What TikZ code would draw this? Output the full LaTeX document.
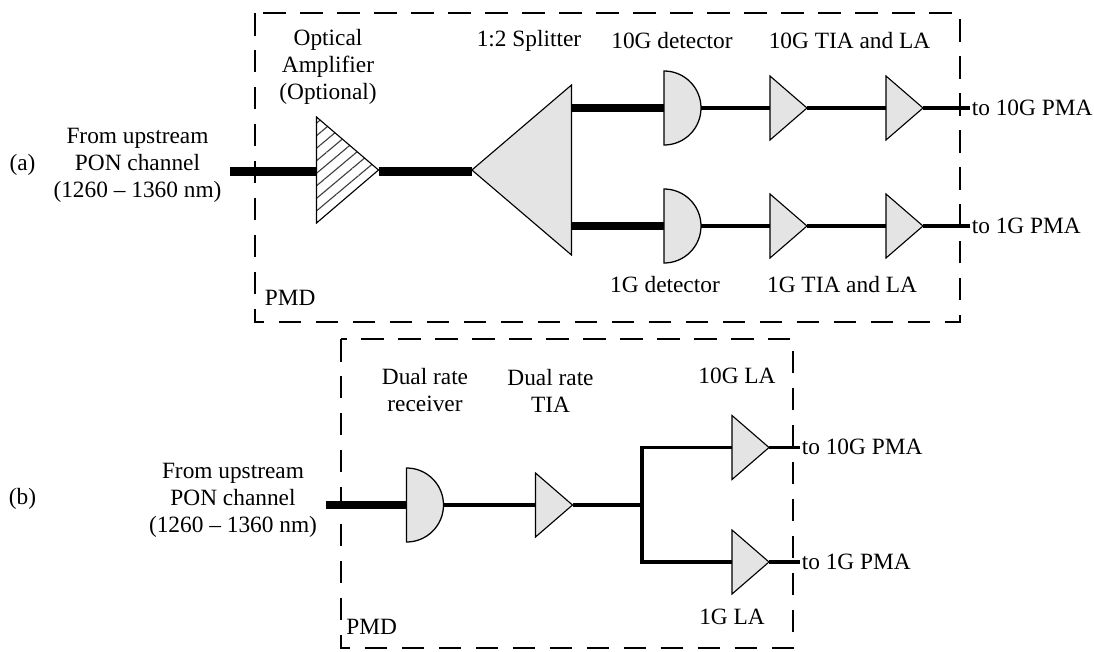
\documentclass[tikz,border=0pt]{standalone}
\usepackage{fontspec}
\setmainfont{Liberation Serif}
\usetikzlibrary{shapes.geometric,patterns.meta}
\definecolor{bodyfill}{RGB}{228,228,228}
\tikzset{
  lbl/.style={font=\fontsize{16.6}{19.2}\selectfont, align=center, inner sep=0pt},
  tria/.style={shape=isosceles triangle, isosceles triangle stretches, shape border rotate=0,
              draw=black, line width=0.8pt, fill=bodyfill, inner sep=0pt, outer sep=0pt, anchor=lower side},
  ampl/.style={tria, minimum width=1.6cm, minimum height=0.925cm},
  detect/.style={shape=semicircle, rotate=-90, draw=black, line width=0.9pt,
              fill=bodyfill, inner sep=0pt, outer sep=0pt, anchor=chord center, minimum width=1.85cm},
  pmdbox/.style={draw=black, line width=1.1pt, dash pattern=on 16pt off 10.3pt},
  fibre/.style={line width=5.7pt},
  wire/.style={line width=2.3pt},
}
\begin{document}
\begin{tikzpicture}[x=0.025cm,y=-0.025cm]
  \useasboundingbox (0,0) rectangle (1094,652);
  % upper receiver
  \draw[pmdbox] (255,13) rectangle (960,322);
  \node[lbl] (taga) at (22.5,165) {(a)};
  \node[lbl] (ina) at (137.5,165) {From upstream\\PON channel\\(1260 -- 1360 nm)};
  \coordinate (fibrea) at (230,171.5);
  \node[tria, minimum width=2.65cm, minimum height=1.55cm, pattern={Lines[angle=40,distance=0.24cm,line width=0.8pt]}, pattern color=black!75] (oamp) at (316.5,170) {};
  \node[tria, shape border rotate=180, minimum width=4.25cm, minimum height=2.49cm] (split) at (571.5,170) {};
  \node[detect] (deta) at (664,108) {};
  \node[detect] (detb) at (664,226) {};
  \node[ampl] (tiaa) at (770,108) {};
  \node[ampl] (tiab) at (770,226) {};
  \node[ampl] (laa) at (886,108) {};
  \node[ampl] (lab) at (886,226) {};
  \coordinate (outa) at (970,108);
  \coordinate (outb) at (970,226);
  \draw[fibre] (fibrea) -- (oamp.lower side |- fibrea);
  \draw[fibre] (oamp.apex |- fibrea) -- (split.apex |- fibrea);
  \draw[fibre] (split.lower side |- deta.chord center) -- (deta.chord center);
  \draw[fibre] (split.lower side |- detb.chord center) -- (detb.chord center);
  \draw[wire] (deta.apex) -- (tiaa.lower side);
  \draw[wire] (detb.apex) -- (tiab.lower side);
  \draw[wire] (tiaa.apex) -- (laa.lower side);
  \draw[wire] (tiab.apex) -- (lab.lower side);
  \draw[wire] (laa.apex) -- (outa);
  \draw[wire] (lab.apex) -- (outb);
  \node[lbl] (loamp) at (328,67) {Optical\\Amplifier\\(Optional)};
  \node[lbl] (lsplit) at (529,41) {1:2 Splitter};
  \node[lbl] (ldeta) at (672,41) {10G detector};
  \node[lbl] (ltiaa) at (849.5,41) {10G TIA and LA};
  \node[lbl] (ldetb) at (665,285) {1G detector};
  \node[lbl] (ltiab) at (842,285) {1G TIA and LA};
  \node[lbl,anchor=west] (lpmda) at (264.5,298) {PMD};
  \node[lbl,anchor=west] (louta) at (971.5,108) {to 10G PMA};
  \node[lbl,anchor=west] (loutb) at (971.5,226) {to 1G PMA};
  % lower receiver
  \draw[pmdbox] (341,339) rectangle (793,648);
  \node[lbl] (tagb) at (22.5,499) {(b)};
  \node[lbl] (inb) at (233,500) {From upstream\\PON channel\\(1260 -- 1360 nm)};
  \coordinate (fibreb) at (326,505);
  \node[detect] (detc) at (406.5,505) {};
  \node[ampl] (tiac) at (535.5,505) {};
  \coordinate (junc) at (642,505);
  \node[ampl] (lac) at (732,447.5) {};
  \node[ampl] (lad) at (732,562) {};
  \coordinate (outc) at (800,447.5);
  \coordinate (outd) at (800,562);
  \draw[fibre] (fibreb) -- (detc.chord center);
  \draw[wire] (detc.apex) -- (tiac.lower side);
  \draw[wire] (tiac.apex) -- (junc);
  \draw[wire] (lac.lower side) -| (junc) |- (lad.lower side);
  \draw[wire] (lac.apex) -- (outc);
  \draw[wire] (lad.apex) -- (outd);
  \node[lbl] (ldetc) at (425,390.5) {Dual rate\\receiver};
  \node[lbl] (ltiac) at (550.5,390.5) {Dual rate\\TIA};
  \node[lbl] (llac) at (737,376) {10G LA};
  \node[lbl] (llad) at (732,617) {1G LA};
  \node[lbl,anchor=west] (lpmdb) at (346,627) {PMD};
  \node[lbl,anchor=west] (loutc) at (801.5,447) {to 10G PMA};
  \node[lbl,anchor=west] (loutd) at (801.5,562) {to 1G PMA};
\end{tikzpicture}
\end{document}
